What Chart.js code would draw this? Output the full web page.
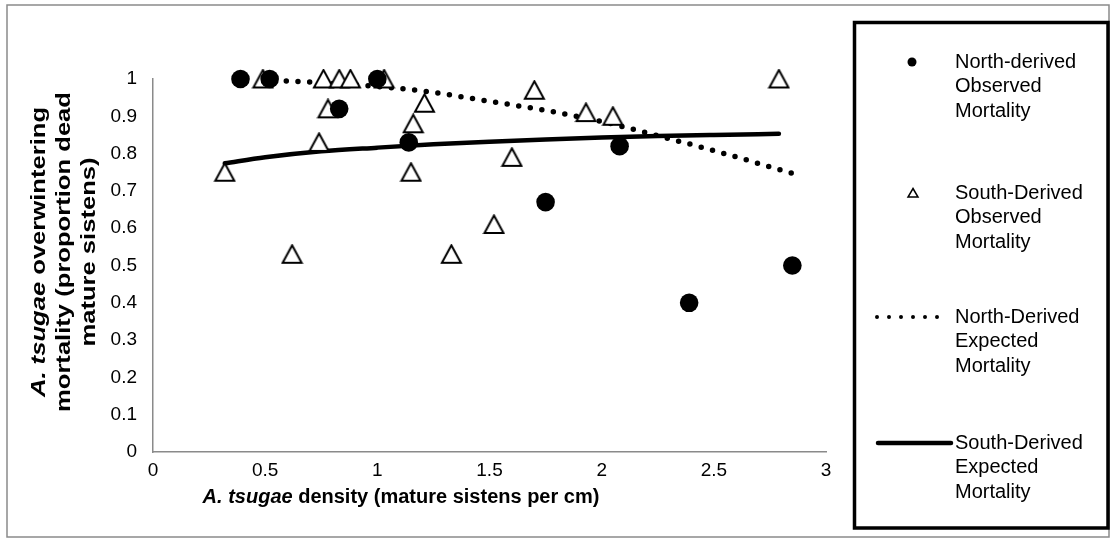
<!DOCTYPE html>
<html>
<head>
<meta charset="utf-8">
<script src="https://cdn.jsdelivr.net/npm/chart.js@4/dist/chart.umd.min.js"></script>
<style>
  html, body { margin: 0; padding: 0; background: #fff; }
  #wrap { width: 1110px; height: 542px; }
</style>
</head>
<body>
<div id="wrap"><canvas id="chart" width="1110" height="542"></canvas></div>
<script>
// North-derived observed mortality
var northX = [0.39, 0.52, 0.83, 1.00, 1.14, 1.75, 2.08, 2.39, 2.85];
var northY = [1.00, 1.00, 0.92, 1.00, 0.83, 0.67, 0.82, 0.40, 0.50];

// South-derived observed mortality
var southX = [0.32, 0.49, 0.62, 0.74, 0.76, 0.78, 0.83, 0.88, 1.03, 1.15, 1.16, 1.21, 1.33, 1.52, 1.60, 1.70, 1.93, 2.05, 2.79];
var southY = [0.75, 1.00, 0.53, 0.83, 1.00, 0.92, 1.00, 1.00, 1.00, 0.75, 0.88, 0.935, 0.53, 0.61, 0.79, 0.97, 0.91, 0.90, 1.00];

// expected curves
var northExpX = [0.49, 0.75, 1.00, 1.25, 1.50, 1.75, 2.00, 2.25, 2.50, 2.85];
var northExpY = [0.998, 0.99, 0.98, 0.964, 0.94, 0.916, 0.886, 0.848, 0.808, 0.747];
var southExpX = [0.32, 0.50, 0.75, 1.00, 1.25, 1.50, 1.75, 2.00, 2.25, 2.50, 2.79];
var southExpY = [0.774, 0.79, 0.806, 0.816, 0.825, 0.832, 0.838, 0.843, 0.847, 0.850, 0.853];

var legendLabels = [
  ["North-derived", "Observed", "Mortality"],
  ["South-Derived", "Observed", "Mortality"],
  ["North-Derived", "Expected", "Mortality"],
  ["South-Derived", "Expected", "Mortality"]
];

var FONT = "'Liberation Sans', Arial, sans-serif";

function pts(xs, ys) {
  return xs.map(function(x, i) { return { x: x, y: ys[i] }; });
}

function plainNum(v) {
  return String(Math.round(v * 10) / 10);
}

// open triangle marker, centred on its bounding box like Excel does
var tri = document.createElement("canvas");
tri.width = 23;
tri.height = 21;
(function() {
  var c = tri.getContext("2d");
  c.fillStyle = "#fff";
  c.strokeStyle = "#000";
  c.lineWidth = 2;
  c.beginPath();
  c.moveTo(11.5, 1.5);
  c.lineTo(21, 19);
  c.lineTo(2, 19);
  c.closePath();
  c.fill();
  c.stroke();
})();

// draw a row of text pieces with different styles, centred on cx
function drawRuns(ctx, runs, cx, cy) {
  var total = 0;
  runs.forEach(function(r) {
    ctx.font = r[1];
    total += ctx.measureText(r[0]).width;
  });
  var x = cx - total / 2;
  runs.forEach(function(r) {
    ctx.font = r[1];
    ctx.fillText(r[0], x, cy);
    x += ctx.measureText(r[0]).width;
  });
}

var decor = {
  id: "decor",
  beforeDraw: function(chart) {
    var ctx = chart.ctx;
    ctx.save();
    ctx.fillStyle = "#fff";
    ctx.fillRect(0, 0, chart.width, chart.height);
    ctx.strokeStyle = "#8a8a8a";
    ctx.lineWidth = 1.5;
    ctx.strokeRect(7, 5, 1102, 532);
    ctx.restore();
  },
  afterDraw: function(chart) {
    var ctx = chart.ctx;
    var bi = "italic bold 20px " + FONT;
    var b = "bold 20px " + FONT;
    ctx.save();
    ctx.fillStyle = "#000";
    ctx.textBaseline = "middle";

    // x axis title
    drawRuns(ctx, [["A. tsugae", bi], [" density (mature sistens per cm)", b]], 401, 497);

    // y axis title, three rotated lines
    var yLines = [
      [["A. tsugae", bi], [" overwintering", b]],
      [["mortality (proportion dead", b]],
      [["mature sistens)", b]]
    ];
    var cols = [39, 64, 89];
    yLines.forEach(function(runs, i) {
      ctx.save();
      ctx.translate(cols[i], 252);
      ctx.rotate(-Math.PI / 2);
      ctx.scale(1.28, 1);
      drawRuns(ctx, runs, 0, 0);
      ctx.restore();
    });

    // legend box
    ctx.strokeStyle = "#000";
    ctx.lineWidth = 3.5;
    ctx.strokeRect(854.5, 22.5, 253.5, 505.5);

    var rows = [62, 193, 317, 443];
    ctx.font = "20px " + FONT;
    ctx.textAlign = "left";
    legendLabels.forEach(function(lines, i) {
      lines.forEach(function(t, j) {
        ctx.fillText(t, 955, rows[i] + j * 24.5);
      });
    });

    // legend symbols
    ctx.beginPath();
    ctx.arc(912, rows[0], 4.5, 0, Math.PI * 2);
    ctx.fill();

    ctx.lineWidth = 1.5;
    ctx.beginPath();
    ctx.moveTo(913, rows[1] - 4.5);
    ctx.lineTo(918, rows[1] + 4);
    ctx.lineTo(908, rows[1] + 4);
    ctx.closePath();
    ctx.stroke();

    ctx.lineWidth = 4;
    ctx.lineCap = "round";
    ctx.setLineDash([0, 12]);
    ctx.beginPath();
    ctx.moveTo(877, rows[2]);
    ctx.lineTo(938, rows[2]);
    ctx.stroke();

    ctx.setLineDash([]);
    ctx.lineWidth = 4.5;
    ctx.beginPath();
    ctx.moveTo(878, rows[3]);
    ctx.lineTo(951, rows[3]);
    ctx.stroke();
    ctx.restore();
  }
};

new Chart(document.getElementById("chart"), {
  type: "scatter",
  data: {
    datasets: [
      {
        label: "North-Derived Expected Mortality",
        data: pts(northExpX, northExpY),
        showLine: true,
        pointRadius: 0,
        borderColor: "#000",
        borderWidth: 5.5,
        borderDash: [0, 11.7],
        borderCapStyle: "round",
        tension: 0.4,
        cubicInterpolationMode: "monotone",
        clip: false,
        order: 3
      },
      {
        label: "South-Derived Expected Mortality",
        data: pts(southExpX, southExpY),
        showLine: true,
        pointRadius: 0,
        borderColor: "#000",
        borderWidth: 4.5,
        borderCapStyle: "round",
        tension: 0.4,
        cubicInterpolationMode: "monotone",
        clip: false,
        order: 2
      },
      {
        label: "South-Derived Observed Mortality",
        data: pts(southX, southY),
        pointStyle: tri,
        clip: false,
        order: 1
      },
      {
        label: "North-derived Observed Mortality",
        data: pts(northX, northY),
        pointStyle: "circle",
        pointRadius: 9.3,
        backgroundColor: "#000",
        borderColor: "#000",
        borderWidth: 0,
        clip: false,
        order: 0
      }
    ]
  },
  options: {
    responsive: false,
    animation: false,
    devicePixelRatio: 1,
    events: [],
    layout: { padding: { left: 0, top: 79, right: 284, bottom: 0 } },
    plugins: {
      legend: { display: false },
      tooltip: { enabled: false }
    },
    scales: {
      x: {
        type: "linear",
        min: 0,
        max: 3,
        ticks: { stepSize: 0.5, color: "#000", padding: 7, font: { family: FONT, size: 19 }, callback: plainNum },
        grid: { display: false, drawTicks: false },
        border: { color: "#8a8a8a", width: 1.5 },
        afterFit: function(s) { s.height = 90; }
      },
      y: {
        type: "linear",
        min: 0,
        max: 1,
        ticks: { stepSize: 0.1, color: "#000", padding: 16, font: { family: FONT, size: 19 }, callback: plainNum },
        grid: { display: false, drawTicks: false },
        border: { color: "#8a8a8a", width: 1.5 },
        afterFit: function(s) { s.width = 153; }
      }
    }
  },
  plugins: [decor]
});
</script>
</body>
</html>
